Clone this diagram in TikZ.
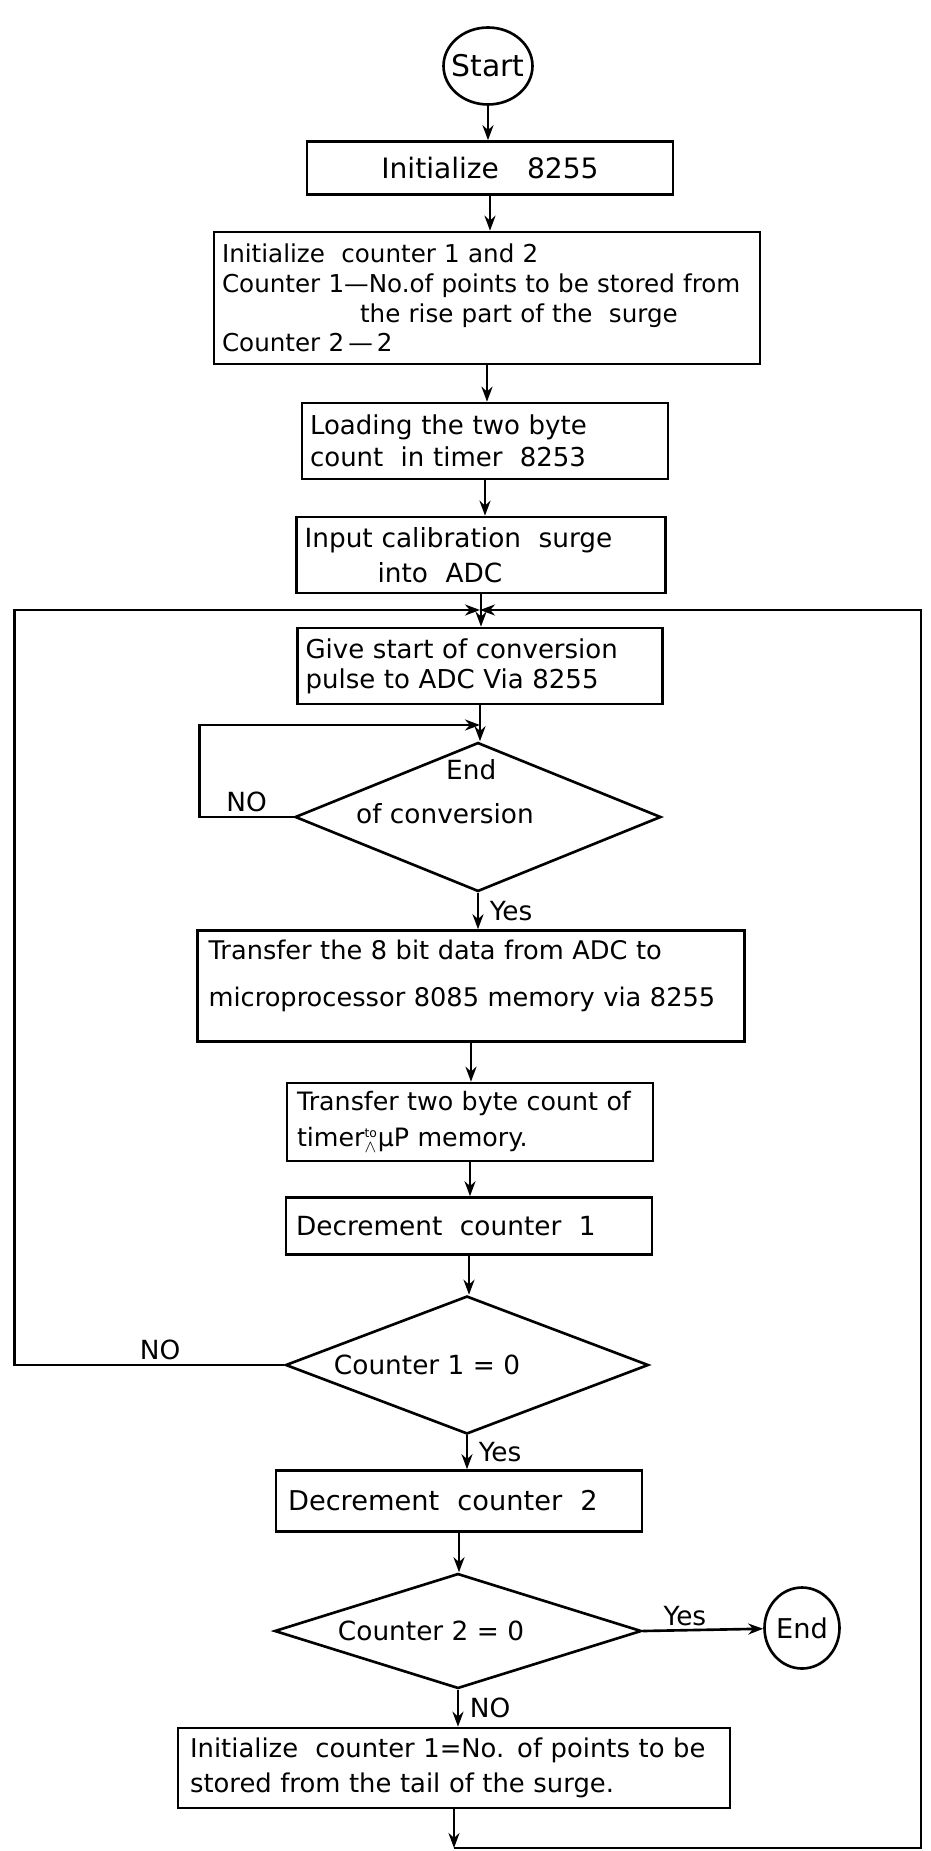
\documentclass[tikz,border=0pt]{standalone}
\usepackage{fontspec}
\setmainfont{DejaVu Sans}
\usetikzlibrary{arrows.meta, shapes.geometric}
\tikzset{
  box/.style={draw, rectangle, line width=1.5pt, align=left, inner xsep=0.16cm, inner ysep=0pt,
              font=\fontsize{15}{19}\selectfont},
  dec/.style={draw, diamond, aspect=2, line width=1.5pt, inner sep=0pt, font=\fontsize{15}{19}\selectfont},
  term/.style={draw, ellipse, line width=1.5pt, inner sep=0pt, font=\fontsize{15.5}{19}\selectfont},
  flow/.style={-{Stealth[length=3mm,width=2.2mm]}, line width=1.5pt},
  lbl/.style={font=\fontsize{15}{18}\selectfont, inner sep=2pt},
}

\begin{document}
\begin{tikzpicture}[x=0.02cm,y=-0.02cm]
\useasboundingbox (0,0) rectangle (930,1851);
\node[term,minimum width=1.78cm,minimum height=1.54cm] (start) at (488,66) {\makebox[0pt]{\fontsize{17}{19}\selectfont Start}};
\node[box,text width=7cm,minimum height=1.06cm,align=center,font=\fontsize{16}{19}\selectfont] (init8255) at (490,168) {Initialize\quad 8255};
\node[box,text width=10.6cm,minimum height=2.64cm,font=\fontsize{14}{17}\selectfont] (initcnt) at (487,298)
  {Initialize\ \ counter 1 and 2\\Counter 1—No.of points to be stored from\\\hspace*{2.76cm}the rise part of the\ \ surge\\Counter 2\,—\,2};
\node[box,text width=7cm,minimum height=1.52cm,font=\fontsize{14.8}{18}\selectfont] (loadcnt) at (485,441)
  {Loading the two byte\\count\ \ in timer\ \ 8253};
\node[box,text width=7.06cm,minimum height=1.52cm,font=\fontsize{15}{20}\selectfont] (inputadc) at (481,555)
  {Input calibration\ \ surge\\\hspace*{1.46cm}into\ \ ADC};
\coordinate (merge) at (480,610);
\node[box,text width=6.98cm,minimum height=1.52cm,font=\fontsize{14.8}{17}\selectfont] (soc) at (480,666)
  {Give start of conversion\\pulse to ADC Via 8255};
\coordinate (eocin) at (480,725);
\node[dec,minimum width=7.32cm,minimum height=2.98cm] (eoc) at (478,817)
  {\makebox[0pt]{\begin{tabular}{@{}l@{}}\hspace*{1.8cm}End\\[6pt]of conversion\\[6pt]\strut\end{tabular}\hspace{1.32cm}}};
\node[box,text width=10.5cm,inner xsep=0.22cm,minimum height=2.22cm,font=\fontsize{14.6}{26.7}\selectfont] (xfer) at (471,986)
  {Transfer the 8 bit data from ADC to\\microprocessor 8085 memory via 8255\\[-20pt]\strut};
\node[box,text width=6.92cm,inner xsep=0.2cm,minimum height=1.56cm,font=\fontsize{14.4}{20.4}\selectfont] (xfertime) at (470,1122)
  {Transfer two byte count of\\timer$_{\wedge}^{\mbox{\scriptsize to}}$µP memory.};
\node[box,text width=6.92cm,inner xsep=0.2cm,minimum height=1.14cm] (deccnt1) at (469,1226)
  {Decrement\ \ counter\ \ 1};
\node[dec,minimum width=7.26cm,minimum height=2.76cm] (cnt1) at (467,1365)
  {\makebox[0pt]{Counter 1 = 0\hspace{1.6cm}}};
\node[box,text width=6.84cm,inner xsep=0.24cm,minimum height=1.22cm,font=\fontsize{15.5}{19}\selectfont] (deccnt2) at (459,1501)
  {Decrement\ \ counter\ \ 2};
\node[dec,minimum width=7.34cm,minimum height=2.3cm] (cnt2) at (458,1631)
  {\makebox[0pt]{Counter 2 = 0\hspace{1.08cm}}};
\node[term,minimum width=1.5cm,minimum height=1.62cm] (stop) at (802,1628) {End};
\node[box,text width=10.56cm,inner xsep=0.24cm,minimum height=1.6cm,font=\fontsize{14.7}{20}\selectfont] (inittail) at (454,1768)
  {Initialize\ \ counter 1=No. of points to be\\stored from the tail of the surge.};
\coordinate (loopbr) at (921,1848);
\draw[flow] (start) -- (start |- init8255.north);
\draw[flow] (init8255) -- (init8255 |- initcnt.north);
\draw[flow] (initcnt) -- (initcnt |- loadcnt.north);
\draw[flow] (loadcnt) -- (loadcnt |- inputadc.north);
\draw[flow] (inputadc) -- (inputadc |- soc.north);
\draw[flow] (soc) -- (soc |- eoc.north);
\draw[flow] (eoc.west) -- node[lbl,above]{NO} ++(-94,0) |- (eocin);
\draw[flow] (eoc) -- node[lbl,right=4pt]{Yes} (eoc |- xfer.north);
\draw[flow] (xfer) -- (xfer |- xfertime.north);
\draw[flow] (xfertime) -- (xfertime |- deccnt1.north);
\draw[flow] (deccnt1) -- (deccnt1 |- cnt1.north);
\draw[flow] (cnt1.west) -- node[lbl,above,pos=.46]{NO} ++(-270,0) |- (merge);
\draw[flow] (cnt1) -- node[lbl,right=4pt]{Yes} (cnt1 |- deccnt2.north);
\draw[flow] (deccnt2) -- (deccnt2 |- cnt2.north);
\draw[flow] (cnt2.east) -- node[lbl,above,pos=.35]{Yes} (stop);
\draw[flow] (cnt2) -- node[lbl,right=4pt]{NO} (cnt2 |- inittail.north);
\draw[flow] (inittail) -- (inittail |- loopbr);
\draw[flow] (inittail |- loopbr) -- (loopbr) |- (merge);
\end{tikzpicture}
\end{document}
